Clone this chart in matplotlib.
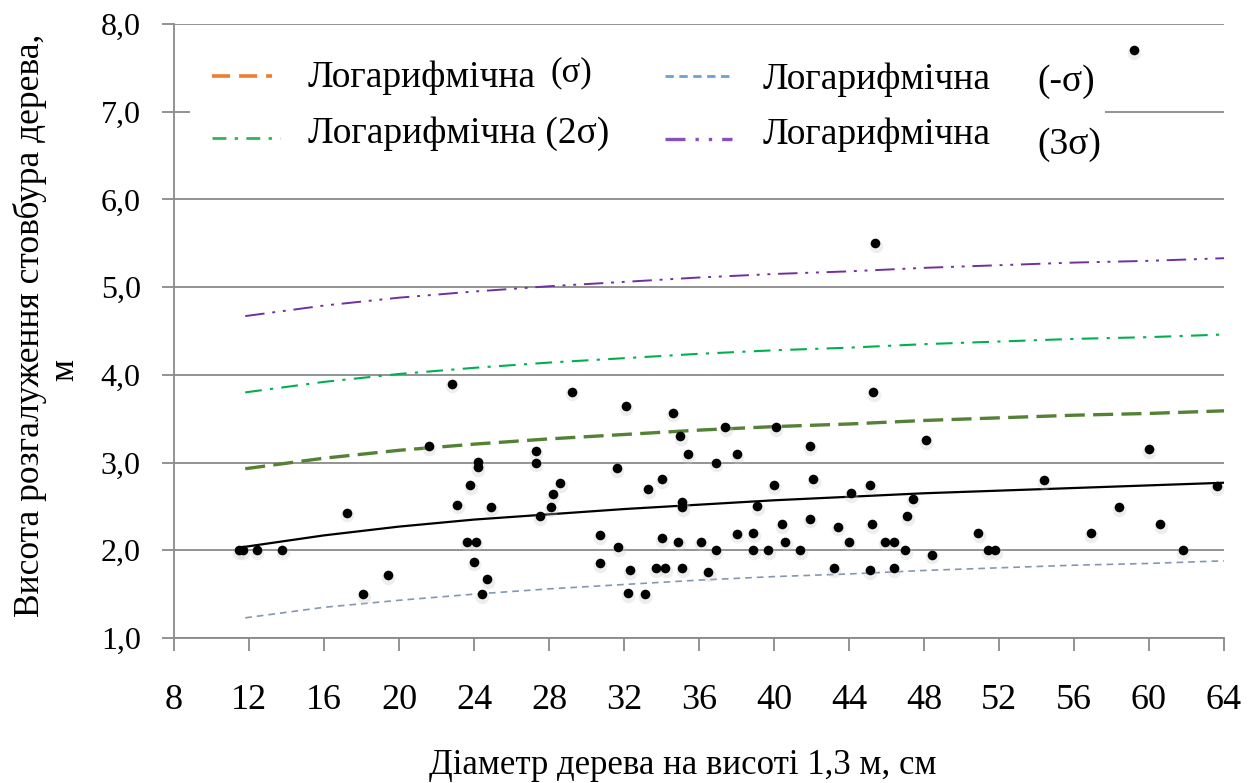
import numpy as np
import matplotlib.pyplot as plt
from matplotlib.lines import Line2D
from matplotlib.patches import Rectangle
from matplotlib import transforms

plt.rcParams['font.family'] = ['Liberation Serif', 'DejaVu Serif']

# ---- data ----
diam = [11.47, 11.68, 12.43, 13.77, 17.2, 18.1, 19.4, 21.6, 22.8, 23.1, 23.6, 23.8, 24.1, 24.2, 24.2,
        24.0, 24.4, 24.7, 24.9, 27.3, 27.3, 27.5, 28.1, 28.2, 28.6, 29.2, 30.7, 30.7, 31.6, 31.7,
        32.1, 32.3, 32.2, 33.1, 33.3, 33.7, 34.2, 34.0, 34.0, 34.6, 34.9, 35.0, 35.1, 35.1, 35.1,
        35.4, 36.1, 36.5, 36.9, 36.9, 37.4, 38.0, 38.0, 38.9, 38.9, 39.1, 39.7, 40.0, 40.1, 40.4,
        40.6, 41.4, 41.9, 42.1, 41.9, 43.2, 43.4, 44.0, 44.1, 45.1, 45.2, 45.1, 45.3, 45.4, 45.9,
        46.4, 46.4, 47.0, 47.1, 47.4, 48.1, 48.4, 50.9, 51.4, 51.8, 54.4, 56.9, 58.4, 59.2, 60.0,
        60.6, 61.8, 63.6]
height = [2.0, 2.0, 2.0, 2.0, 2.43, 1.5, 1.72, 3.19, 3.9, 2.52, 2.1, 2.74, 2.1, 3.01, 2.95,
          1.87, 1.5, 1.67, 2.49, 3.13, 3.0, 2.39, 2.49, 2.64, 2.77, 3.81, 2.17, 1.85, 2.94, 2.04,
          3.64, 1.77, 1.51, 1.5, 2.7, 1.8, 1.8, 2.81, 2.14, 3.57, 2.1, 3.3, 2.55, 2.49, 1.8,
          3.1, 2.1, 1.75, 3.0, 2.0, 3.4, 3.1, 2.19, 2.2, 2.0, 2.5, 2.0, 2.74, 3.4, 2.3,
          2.1, 2.0, 3.19, 2.81, 2.36, 1.8, 2.27, 2.1, 2.65, 1.77, 2.3, 2.74, 3.8, 5.5, 2.1,
          2.1, 1.8, 2.0, 2.39, 2.59, 3.26, 1.95, 2.2, 2.0, 2.0, 2.8, 2.2, 2.49, 7.7, 3.15,
          2.3, 2.0, 2.73]

trend_x = [11.8, 16, 20, 24, 28, 32, 36, 40, 44, 48, 52, 56, 60, 64]
trend_mean = [2.04, 2.17, 2.27, 2.35, 2.41, 2.47, 2.52, 2.57, 2.61, 2.65, 2.68, 2.71, 2.74, 2.77]
trend_s1 = [2.93, 3.05, 3.14, 3.21, 3.27, 3.32, 3.37, 3.41, 3.44, 3.48, 3.51, 3.54, 3.56, 3.59]
trend_s2 = [3.80, 3.92, 4.01, 4.08, 4.14, 4.19, 4.24, 4.28, 4.31, 4.35, 4.38, 4.41, 4.43, 4.46]
trend_s3 = [4.67, 4.79, 4.88, 4.95, 5.01, 5.06, 5.11, 5.15, 5.18, 5.22, 5.25, 5.28, 5.30, 5.33]
trend_m1 = [1.23, 1.35, 1.43, 1.50, 1.56, 1.61, 1.66, 1.70, 1.73, 1.77, 1.80, 1.83, 1.85, 1.88]

x_ticks = list(range(8, 65, 4))
y_ticks = [1, 2, 3, 4, 5, 6, 7, 8]
y_ticklabels = ['1,0', '2,0', '3,0', '4,0', '5,0', '6,0', '7,0', '8,0']

W, H = 1251, 783
fig = plt.figure(figsize=(W / 100, H / 100), dpi=100)
ax = fig.add_axes([174 / W, 1 - 638 / H, 1050 / W, 614 / H])

def fx(px):
    return px / W

def fy(py):
    return 1 - py / H

grid_col = '#8a8a8a'
ax.set_xlim(8, 64)
ax.set_ylim(1, 8)
ax.set_yticks(y_ticks)
ax.set_yticklabels(y_ticklabels)
ax.set_xticks(x_ticks)
ax.grid(axis='y', color=grid_col, lw=1.3, zorder=0)
ax.set_axisbelow(True)
for s in ['top', 'right']:
    ax.spines[s].set_visible(False)
for s in ['left', 'bottom']:
    ax.spines[s].set_color(grid_col)
    ax.spines[s].set_linewidth(1.3)
ax.tick_params(axis='both', direction='out', length=9, width=1.3, color=grid_col)
ax.tick_params(axis='y', labelsize=23, pad=15)
ax.tick_params(axis='x', labelsize=26, pad=24)

# white box behind legend hides part of the grid
ax.add_patch(Rectangle((16 / 1050, 1 - 170 / 614 + 24 / 614), (1105 - 190) / 1050, 140 / 614,
                       transform=ax.transAxes, facecolor='white', edgecolor='none', zorder=1))

# trend lines
ax.plot(trend_x, trend_m1, color='#8497b0', lw=1.2, dashes=(4, 3), zorder=2)
ax.plot(trend_x, trend_s1, color='#548235', lw=2.4, dashes=(6, 2.5), zorder=2)
ax.plot(trend_x, trend_s2, color='#00b050', lw=1.5, dashes=(8, 4, 1.5, 4), zorder=2)
ax.plot(trend_x, trend_s3, color='#7030a0', lw=1.4, dashes=(10, 4, 1.5, 4, 1.5, 4), zorder=2)
ax.plot(trend_x, trend_mean, color='black', lw=1.6, zorder=3)

# points with soft shadow
shadow = transforms.offset_copy(ax.transData, fig=fig, x=0.3, y=-2.0, units='points')
ax.scatter(diam, height, s=95, color='#c8c8c8', alpha=0.3, lw=0, transform=shadow, zorder=3)
ax.scatter(diam, height, s=48, color='black', lw=0, zorder=4)

# legend drawn by hand
fs = 27
leg_lines = [
    ((212, 272), 76, '#ed7d31', 2.6, (5, 2.5)),
    ((212, 280), 138, '#33b35a', 2.0, (5, 3, 1.2, 3)),
    ((665, 732), 76, '#6a9fd8', 2.0, (3, 2)),
    ((665, 732), 139, '#8a4fbf', 2.4, (6, 3, 1, 3, 1, 3)),
]
for (x0, x1), yy, col, lw, ds in leg_lines:
    fig.add_artist(Line2D([fx(x0), fx(x1)], [fy(yy), fy(yy)], color=col, lw=lw, dashes=ds))

fig.text(fx(308), fy(78), 'Логарифмічна', fontsize=fs, va='center', ha='left')
fig.text(fx(550), fy(73), '(σ)', fontsize=fs - 2, va='center', ha='left')
fig.text(fx(308), fy(134), 'Логарифмічна (2σ)', fontsize=fs, va='center', ha='left')
fig.text(fx(763), fy(80), 'Логарифмічна', fontsize=fs, va='center', ha='left')
fig.text(fx(1037), fy(82), '(-σ)', fontsize=fs, va='center', ha='left')
fig.text(fx(763), fy(135), 'Логарифмічна', fontsize=fs, va='center', ha='left')
fig.text(fx(1037), fy(145), '(3σ)', fontsize=fs, va='center', ha='left')

# axis titles
fig.text(fx(683), fy(765), 'Діаметр дерева на висоті 1,3 м, см', fontsize=25,
         ha='center', va='center')
fig.text(fx(30), fy(325), 'Висота розгалуження стовбура дерева,', fontsize=25.5,
         rotation=90, ha='center', va='center')
fig.text(fx(65), fy(370), 'м', fontsize=25, rotation=90, ha='center', va='center')

fig.savefig('out.png', dpi=100)
